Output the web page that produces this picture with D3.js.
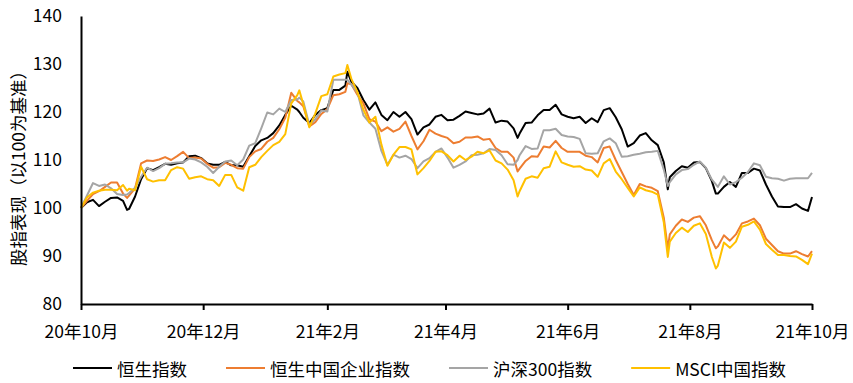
<!DOCTYPE html>
<html><head><meta charset="utf-8">
<script src="https://cdn.jsdelivr.net/npm/d3@7"></script>
<style>body{margin:0;background:#fff}svg{display:block}text{font-family:"Noto Sans CJK SC","Noto Sans",sans-serif}</style>
</head><body><svg id="c" width="853" height="383"></svg>
<script>
const dates = ["2020-10-01","2020-10-04","2020-10-07","2020-10-10","2020-10-13","2020-10-16","2020-10-19","2020-10-22","2020-10-24","2020-10-25",
"2020-10-28","2020-10-31","2020-11-03","2020-11-06","2020-11-09","2020-11-12","2020-11-15","2020-11-18","2020-11-21","2020-11-24",
"2020-11-27","2020-11-30","2020-12-03","2020-12-06","2020-12-09","2020-12-12","2020-12-15","2020-12-18","2020-12-21","2020-12-24",
"2020-12-27","2020-12-30","2021-01-02","2021-01-05","2021-01-08","2021-01-11","2021-01-14","2021-01-17","2021-01-18","2021-01-20",
"2021-01-23","2021-01-26","2021-01-29","2021-02-01","2021-02-04","2021-02-07","2021-02-10","2021-02-11","2021-02-13","2021-02-16",
"2021-02-19","2021-02-22","2021-02-25","2021-02-28","2021-03-03","2021-03-06","2021-03-09","2021-03-12","2021-03-15","2021-03-18",
"2021-03-21","2021-03-24","2021-03-27","2021-03-30","2021-04-02","2021-04-05","2021-04-08","2021-04-11","2021-04-14","2021-04-17",
"2021-04-20","2021-04-23","2021-04-26","2021-04-29","2021-05-02","2021-05-05","2021-05-07","2021-05-08","2021-05-11","2021-05-14",
"2021-05-17","2021-05-20","2021-05-23","2021-05-26","2021-05-29","2021-06-01","2021-06-04","2021-06-07","2021-06-10","2021-06-13",
"2021-06-16","2021-06-19","2021-06-22","2021-06-25","2021-06-28","2021-07-01","2021-07-04","2021-07-07","2021-07-10","2021-07-13",
"2021-07-16","2021-07-19","2021-07-21","2021-07-22","2021-07-25","2021-07-28","2021-07-31","2021-08-03","2021-08-06","2021-08-09",
"2021-08-12","2021-08-14","2021-08-15","2021-08-18","2021-08-21","2021-08-24","2021-08-27","2021-08-30","2021-09-02","2021-09-05",
"2021-09-08","2021-09-11","2021-09-14","2021-09-17","2021-09-20","2021-09-23","2021-09-26","2021-09-29","2021-10-01"];

const hsi = [100,101.2,101.7,100.4,101.3,102.1,102.2,101.5,99.6,99.8,
102.4,106,108.3,107.9,108.5,109.2,109,109.3,109.5,110.8,
110.9,110.4,109.3,109,109,109.6,108.9,108.9,108.6,110.8,
112.9,114.1,114.6,115.6,117.2,119.4,121.3,120.5,120,118.8,
117.7,119.4,120.4,120.8,124.6,124.6,125.5,128.4,126.3,125,
122.5,120.5,122,119.4,118.3,120,119,120,118.5,115.3,
116.8,117.4,119,119.4,118.3,118.4,119.2,120.1,119.8,119.5,
119.7,120.7,117.8,118.2,118,116.6,114.6,115.5,117.7,117.8,
119.3,120.4,120.4,121.5,119.5,119,118.7,119,117.7,118.7,
117.9,120.4,120.8,118.9,116.4,112.8,113.5,115.1,115.6,114.1,
113.1,109.5,103.9,106.4,107.7,108.7,108.4,109.5,109.6,108.3,
105.6,103,103,104.4,105.4,104.4,107.3,107.3,108.2,107.8,
104.9,102.4,100.3,100.2,100.2,100.8,99.9,99.4,102.3];

const hscei = [100,101.5,102.9,103.5,104.4,105.3,105.3,103,102.1,102.6,
104.1,109.3,109.9,109.8,110.1,110.6,110,110.8,111.7,110.4,
110.5,110.3,109.2,108.4,108.5,109.4,109,108.3,108.2,110.6,
111.8,112.3,113.8,114.6,116.4,118.8,124,122.3,122,121.2,
117,117.9,119.6,120.6,123.5,123.7,124.2,126,125.8,123.6,
121.8,118.5,118,116,116.8,115.9,116.5,118,115,112.2,
113.9,116.3,115.5,115,114.6,113.5,113.8,114.7,114.7,114.9,
114.2,114.4,112.5,111.7,111.7,110.5,107.6,108.2,109.8,110.8,
110.7,112.8,112.6,114,112.5,111.7,111.7,111.7,110.9,110.6,
109.5,112.5,112.8,110,107.5,105,102.7,105,104.5,104.2,
103.5,98,91.5,94.5,96.3,97.6,97.1,98,98.3,96.4,
93.3,91.6,92,94.3,93.2,94.5,96.8,97.2,97.8,96.4,
93.6,92.3,91,90.5,90.5,91,90.4,89.9,91];

const csi300 = [100,102.6,105.2,104.6,104.9,104.1,102.9,102.7,102.8,103.1,
104.2,106.5,108.4,107.7,108.3,109.2,109.3,109.5,109.5,110.3,
110.1,109.5,108.6,107.3,108.6,109.7,109.9,108.9,110.1,113,
113.5,116.6,119.9,119.5,120.7,120,122.5,122.6,123,122.2,
117.3,118.5,120.3,120.1,126.7,126.7,126.7,126.7,125.7,124.1,
119.3,117.8,116.5,111.9,109,111.1,110.5,110.9,110.2,108.3,
109.7,110.4,111.7,112.4,110.5,108.4,109,109.7,111,111.1,
111.4,112.3,112.1,111,109.1,109,110,111,112.9,112.3,
112.4,116.2,116.2,116.5,115.2,114.9,114.8,114.4,111.4,111.3,
111.4,113.9,114.5,113.5,110.7,110.8,111.1,111.3,111.6,111.7,
111.9,108,104.6,105.4,107,107.9,108.1,109,109.7,108.4,
105.9,104.9,104.4,106.6,104.9,105.4,106.3,107.5,109.3,108.9,
106.5,106.2,106.1,105.7,106.1,106.2,106.2,106.2,107.3];

const msci = [100,102.2,103.2,103.6,103.8,103.8,103.7,104.8,103.6,104,
103.7,108.6,106,105.5,105.8,105.8,107.9,108.5,108.2,106.1,
106.4,106.6,106,105.8,104.6,106.9,106.9,104.3,103.6,108.5,
109,110.6,111.9,113.1,113.8,115.4,121.8,123.5,124.5,121.6,
116.8,119.7,123.3,123.7,127.4,127.8,128.1,129.8,126.9,124.2,
120.5,117.8,119,113.2,108.8,111.1,112.7,112.7,112.2,107,
108.3,109.8,111.7,111.8,111,109.7,110.9,110,110.7,111.7,
111.4,112,109.9,109.3,108,105.8,102.4,103.5,106.1,106.6,
106.3,108.3,108.6,111.8,109.5,109,108.6,108.7,108,107.8,
106.5,109.3,110.2,107.6,106,104.2,102.4,104.3,103.7,103.4,
102.8,97,89.8,93,94.8,95.9,95,96.3,96.8,94.6,
89.8,87.4,88,92.8,91.7,93,96.1,96.5,97.2,95.5,
92.5,91.3,90.2,90.2,90,89.9,89.2,88.3,90.5];

const seriesNames = ["恒生指数","恒生中国企业指数","沪深300指数","MSCI中国指数"];
const seriesColors = ["#000000","#ED7D31","#A5A5A5","#FFC000"];
const xTickDates = ["2020-10-01","2020-12-01","2021-02-01","2021-04-01","2021-06-01","2021-08-01","2021-10-01"];
const xTickLabels = ["20年10月","20年12月","21年2月","21年4月","21年6月","21年8月","21年10月"];
const yTicks = [80,90,100,110,120,130,140];
const yTitle = "股指表现（以100为基准）";

const parse = d3.utcParse("%Y-%m-%d");
const X = dates.map(parse);
const allSeries = [hsi, hscei, csi300, msci];

const svg = d3.select("#c");
const FS = 17.5;
const x = d3.scaleUtc().domain([parse("2020-10-01"), parse("2021-10-01")]).range([81, 812]);
const y = d3.scaleLinear().domain([80, 140]).range([304, 16]);

// lines
const line = d3.line().x((d,i)=>x(X[i])).y(d=>y(d));
allSeries.forEach((s,k)=>{
  svg.append("path").datum(s).attr("d", line).attr("fill","none")
    .attr("stroke", seriesColors[k]).attr("stroke-width", 2).attr("stroke-linejoin","round");
});

// y axis
const ya = svg.append("g").attr("transform","translate(81,0)")
  .call(d3.axisLeft(y).tickValues(yTicks).tickSize(0).tickPadding(19).tickFormat(d3.format("d")));
ya.select(".domain").attr("stroke","#000").attr("stroke-width",2);
ya.selectAll("text").attr("font-size",FS).attr("fill","#000").style("font-family",'"Noto Sans CJK SC",sans-serif');

// x axis
const xa = svg.append("g").attr("transform","translate(0,304)")
  .call(d3.axisBottom(x).tickValues(xTickDates.map(parse)).tickSize(6).tickSizeOuter(0).tickPadding(16)
    .tickFormat((d,i)=>xTickLabels[i]));
xa.select(".domain").attr("stroke","#000").attr("stroke-width",2.2);
xa.selectAll(".tick line").attr("stroke","#000").attr("stroke-width",2);
xa.selectAll("text").attr("font-size",FS).attr("fill","#000").style("font-family",'"Noto Sans CJK SC",sans-serif');

// y title
svg.append("text").attr("transform","translate(17,164) rotate(-90)")
  .attr("text-anchor","middle").attr("dominant-baseline","central")
  .attr("font-size",FS).attr("fill","#000").text(yTitle);

// legend
let lx = 73;
const ly = 368;
seriesNames.forEach((n,k)=>{
  svg.append("line").attr("x1",lx).attr("x2",lx+39).attr("y1",ly).attr("y2",ly)
    .attr("stroke",seriesColors[k]).attr("stroke-width",2);
  const t = svg.append("text").attr("x",lx+44).attr("y",ly).attr("dominant-baseline","central")
    .attr("font-size",FS).attr("fill","#000").text(n);
  lx += 44 + t.node().getComputedTextLength() + 39;
});
</script>
</body></html>
